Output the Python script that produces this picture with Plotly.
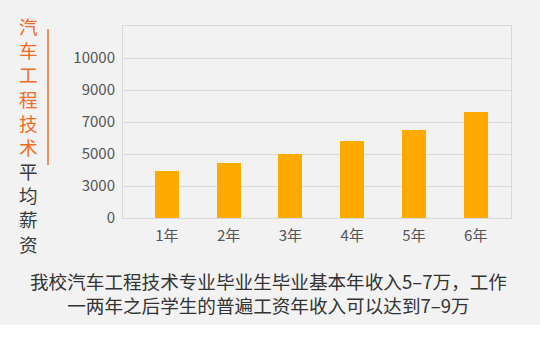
import plotly.graph_objects as go

years = ["1年", "2年", "3年", "4年", "5年", "6年"]
salary = [3950, 4450, 5000, 5800, 6500, 7600]
tick_vals = [1000, 3000, 5000, 7000, 9000, 11000]
tick_text = ["0", "3000", "5000", "7000", "9000", "10000"]
title_orange = list("汽车工程技术")
title_grey = list("平均薪资")
caption = "我校汽车工程技术专业毕业生毕业基本年收入5–7万，工作<br>一两年之后学生的普遍工资年收入可以达到7–9万"

W, H = 540, 355
L, R, T, B = 123, 511, 26, 218
PW, PH = R - L, B - T


def px(x):
    return (x - L) / PW


def py(y):
    return (B - y) / PH


FONT = "Noto Sans CJK SC"

fig = go.Figure(go.Bar(
    x=years, y=salary, marker=dict(color="#FFAA00", line=dict(width=0)),
    width=0.39,
))

title_lines = (
    ['<span style="color:#F26B21">%s</span>' % c for c in title_orange]
    + ['<span style="color:#3a3a3a">%s</span>' % c for c in title_grey]
)
anns = [
    dict(
        text="<br>".join(title_lines), x=px(28), y=py(134),
        xref="paper", yref="paper", showarrow=False,
        xanchor="center", yanchor="middle", align="center",
        font=dict(family=FONT, size=18.6, color="#3a3a3a"),
    ),
    dict(
        text=caption, x=px(268), y=py(292.5), xref="paper", yref="paper",
        showarrow=False, xanchor="center", yanchor="middle", align="center",
        font=dict(family=FONT, size=18.6, color="#333333"),
    ),
]

fig.update_layout(
    width=W, height=H,
    margin=dict(l=L, r=W - R, t=T, b=H - B, pad=0),
    paper_bgcolor="#ffffff", plot_bgcolor="#F2F2F2",
    showlegend=False,
    bargap=0,
    annotations=anns,
    shapes=[
        dict(type="rect", xref="paper", yref="paper", x0=px(0), x1=px(W),
             y0=py(0), y1=py(325), fillcolor="#F2F2F2", line=dict(width=0),
             layer="below"),
        dict(type="line", xref="paper", yref="paper", x0=px(48), x1=px(48),
             y0=py(29), y1=py(165), line=dict(color="#F26B21", width=1.5)),
    ],
    xaxis=dict(
        range=[-0.71, 5.57], showgrid=False, showline=True, mirror=True,
        linecolor="#D9D9D9", linewidth=1, ticks="", zeroline=False,
        tickfont=dict(family=FONT, size=15, color="#555555"),
        ticklabelstandoff=4,
    ),
    yaxis=dict(
        range=[1000, 13000], tickvals=tick_vals, ticktext=tick_text,
        showgrid=True, gridcolor="#D9D9D9", gridwidth=1,
        showline=True, mirror=True, linecolor="#D9D9D9", linewidth=1,
        ticks="", zeroline=False,
        tickfont=dict(family=FONT, size=15, color="#555555"),
        ticklabelstandoff=4,
    ),
)

fig.write_html("out.html")
